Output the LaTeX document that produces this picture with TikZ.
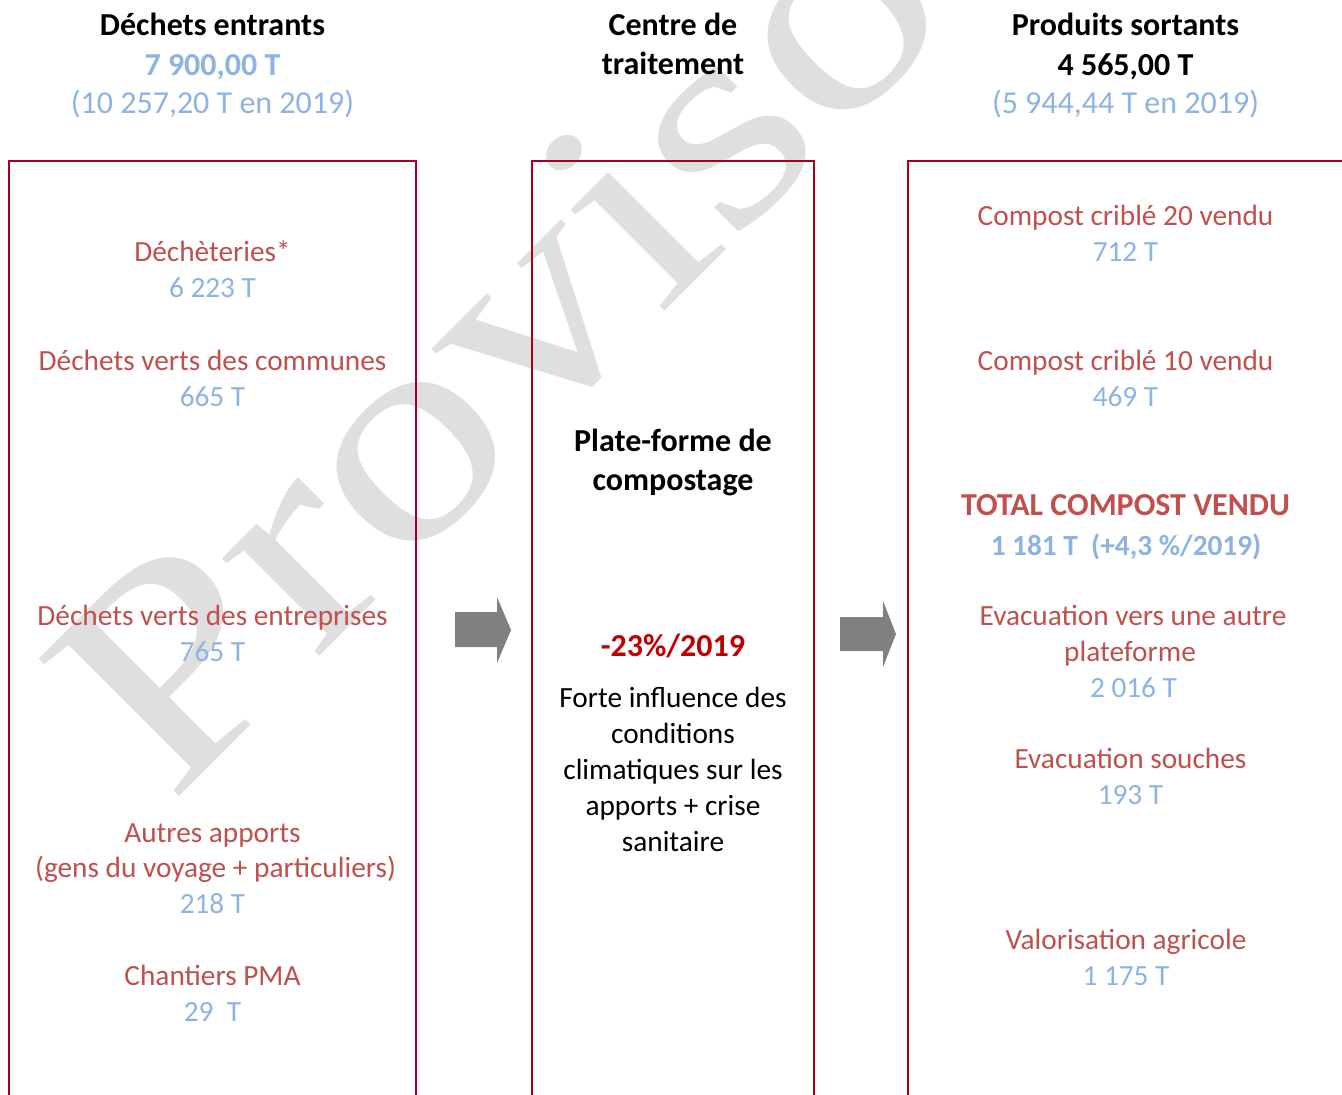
\documentclass[tikz,border=0pt]{standalone}
\usepackage{fontspec}
\setmainfont{Carlito}
\newfontfamily\wmfont{Liberation Serif}
\definecolor{boxred}{HTML}{A50021}
\definecolor{txtred}{HTML}{C0504D}
\definecolor{txtblue}{HTML}{8DB3E2}
\definecolor{pctred}{HTML}{C00000}
\definecolor{wmgray}{HTML}{DFDFDF}
\definecolor{arrgray}{HTML}{808080}
\tikzset{
  body/.style={font=\fontsize{29.3}{36}\selectfont, anchor=base, inner sep=0pt},
  bodyb/.style={font=\fontsize{29.3}{36}\selectfont\bfseries, anchor=base, inner sep=0pt},
  hdr/.style={font=\fontsize{32}{39}\selectfont\bfseries, anchor=base, inner sep=0pt},
  hdrreg/.style={font=\fontsize{32}{39}\selectfont, anchor=base, inner sep=0pt},
  rtxt/.style={text=txtred},
  btxt/.style={text=txtblue},
  colbox/.style={draw=boxred, line width=2pt},
  bigarrow/.style={fill=arrgray, draw=none},
}
\begin{document}
\begin{tikzpicture}[x=1pt,y=-1pt]
\useasboundingbox (0,0) rectangle (1342,1095);
\clip (0,0) rectangle (1342,1095);
\fill[white] (0,0) rectangle (1342,1095);
% watermark
\node[font=\fontsize{300}{300}\selectfont\wmfont, text=wmgray, anchor=base west, inner sep=0pt, rotate=45, xscale=1.22] (wm) at (170,806) {Proviso};
% boxes
\draw[colbox] (9,1120) -- (9,161) -- (416,161) -- (416,1120);
\draw[colbox] (531.5,1120) -- (531.5,161) -- (813.5,161) -- (813.5,1120);
\draw[colbox] (908,1120) -- (908,161) -- (1360,161);
% arrows
\fill[bigarrow] (455,612) -- (497,612) -- (497,597) -- (511,630) -- (497,663) -- (497,647) -- (455,647) -- cycle;
\fill[bigarrow] (840,617) -- (883,617) -- (883,601) -- (896,634) -- (883,667) -- (883,651) -- (840,651) -- cycle;
% headers
\node[hdr] (h1a) at (212.5,35.5) {Déchets entrants};
\node[hdr,btxt] (h1b) at (212.5,75) {7 900,00 T};
\node[hdrreg,btxt] (h1c) at (212.5,113.5) {(10 257,20 T en 2019)};
\node[hdr] (h2a) at (673,35.5) {Centre de};
\node[hdr] (h2b) at (673,74.5) {traitement};
\node[hdr] (h3a) at (1125.5,35.5) {Produits sortants};
\node[hdr] (h3b) at (1125.5,75) {4 565,00 T};
\node[hdrreg,btxt] (h3c) at (1125.5,113.5) {(5 944,44 T en 2019)};
% left column
\node[body,rtxt] (l1a) at (212.5,261) {Déchèteries*};
\node[body,btxt] (l1b) at (212.5,297) {6 223 T};
\node[body,rtxt] (l2a) at (212.5,370) {Déchets verts des communes};
\node[body,btxt] (l2b) at (212.5,406) {665 T};
\node[body,rtxt] (l3a) at (212.5,625) {Déchets verts des entreprises};
\node[body,btxt] (l3b) at (212.5,661) {765 T};
\node[body,rtxt] (l4a) at (212.5,842) {Autres apports};
\node[body,rtxt] (l4b) at (215.5,877) {(gens du voyage + particuliers)};
\node[body,btxt] (l4c) at (212.5,913) {218 T};
\node[body,rtxt] (l5a) at (212.5,985) {Chantiers PMA};
\node[body,btxt] (l5b) at (212.5,1021) {29~~T};
% middle column
\node[hdr] (m1a) at (673,451.5) {Plate-forme de};
\node[hdr] (m1b) at (673,490) {compostage};
\node[hdr,text=pctred] (m2) at (673,656) {-23\%/2019};
\node[body] (m3a) at (673,707) {Forte influence des};
\node[body] (m3b) at (673,743) {conditions};
\node[body] (m3c) at (673,779) {climatiques sur les};
\node[body] (m3d) at (673,815) {apports + crise};
\node[body] (m3e) at (673,851) {sanitaire};
% right column
\node[body,rtxt] (r1a) at (1125.5,225) {Compost criblé 20 vendu};
\node[body,btxt] (r1b) at (1125.5,261) {712 T};
\node[body,rtxt] (r2a) at (1125.5,370) {Compost criblé 10 vendu};
\node[body,btxt] (r2b) at (1125.5,406) {469 T};
\node[hdr,rtxt] (r3a) at (1125.5,515.5) {TOTAL COMPOST VENDU};
\node[bodyb,btxt] (r3b) at (1126,555) {1 181 T~ (+4,3 \%/2019)};
\node[body,rtxt] (r4a) at (1133,625) {Evacuation vers une autre};
\node[body,rtxt] (r4b) at (1130,661) {plateforme};
\node[body,btxt] (r4c) at (1133.5,697) {2 016 T};
\node[body,rtxt] (r5a) at (1130.5,768.5) {Evacuation souches};
\node[body,btxt] (r5b) at (1130.5,804) {193 T};
\node[body,rtxt] (r6a) at (1126,949) {Valorisation agricole};
\node[body,btxt] (r6b) at (1126,985) {1 175 T};
\end{tikzpicture}
\end{document}
